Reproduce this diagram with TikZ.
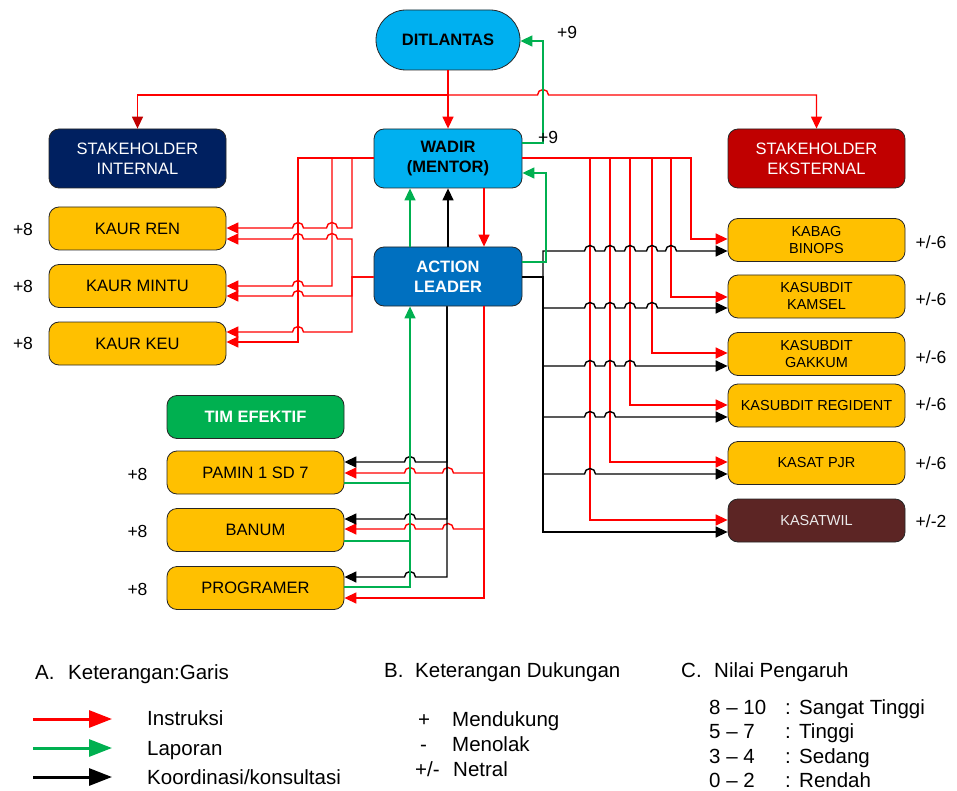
\documentclass[tikz,border=0pt]{standalone}
\usepackage{fontspec}
\setmainfont{Liberation Sans}
\usetikzlibrary{arrows.meta,shapes.misc}
\definecolor{cyanb}{HTML}{00B0F0}
\definecolor{blueal}{HTML}{0070C0}
\definecolor{navy}{HTML}{002060}
\definecolor{dred}{HTML}{C00000}
\definecolor{yel}{HTML}{FFC000}
\definecolor{grn}{HTML}{00B050}
\definecolor{brn}{HTML}{5C2524}
\definecolor{rd}{HTML}{FF0000}
\newcommand\hr[2]{-- ({#1-5.5},#2) arc[start angle=180,end angle=360,radius=5.5]}
\newcommand\hl[2]{-- ({#1+5.5},#2) arc[start angle=0,end angle=-180,radius=5.5]}
\begin{document}
\begin{tikzpicture}[x=1pt,y=-1pt,
  box/.style={draw=black!85, line width=0.8pt, rounded corners=10pt, minimum width=177pt, minimum height=43pt, inner sep=2pt, align=center, font=\fontsize{16.5}{20}\selectfont},
  ybox/.style={box, fill=yel},
  rbox/.style={ybox, font=\fontsize{14.5}{17}\selectfont},
  bigbox/.style={box, minimum height=59pt, font=\fontsize{16.5}{20.5}\selectfont\bfseries},
  rl/.style={draw=rd, line width=1.4pt},
  ra/.style={rl, -{Triangle[length=12pt,width=11pt]}},
  gl/.style={draw=grn, line width=1.4pt},
  ga/.style={gl, -{Triangle[length=12pt,width=11pt]}},
  kl/.style={draw=black, line width=1.4pt},
  ka/.style={kl, -{Triangle[length=12pt,width=11pt]}},
  lab/.style={inner sep=0pt, font=\fontsize{17.5}{20}\selectfont},
  leg/.style={anchor=west, inner sep=0pt, font=\fontsize{20.5}{24}\selectfont, text height=14.7pt, text depth=0pt},
]
\useasboundingbox (0,0) rectangle (957,791);

% nodes
\node[draw=black!85, line width=0.8pt, rounded rectangle, fill=cyanb, minimum width=148pt, minimum height=60pt, inner sep=2pt, font=\fontsize{16.5}{20}\selectfont\bfseries] (dit) at (448,40) {DITLANTAS};
\node[bigbox, fill=cyanb, minimum width=148pt] (wadir) at (448,158.5) {WADIR\\(MENTOR)};
\node[bigbox, fill=blueal, text=white, minimum width=148pt] (al) at (448,276.5) {ACTION\\LEADER};
\node[box, fill=navy, text=white, minimum height=59pt] (si) at (137.5,158.5) {STAKEHOLDER\\INTERNAL};
\node[box, fill=dred, text=white, minimum height=59pt] (se) at (816.5,158.5) {STAKEHOLDER\\EKSTERNAL};

\node[ybox] (kren) at (137.5,228.5) {KAUR REN};
\node[ybox] (kmin) at (137.5,286) {KAUR MINTU};
\node[ybox] (kkeu) at (137.5,343.5) {KAUR KEU};

\node[box, fill=grn, text=white, font=\fontsize{16.5}{20}\selectfont\bfseries] (tim) at (255.5,417) {TIM EFEKTIF};
\node[ybox] (pamin) at (255.5,472.5) {PAMIN 1 SD 7};
\node[ybox] (banum) at (255.5,530) {BANUM};
\node[ybox] (prog) at (255.5,588) {PROGRAMER};

\node[rbox] (binops) at (816.5,240) {KABAG\\BINOPS};
\node[rbox] (kamsel) at (816.5,296.5) {KASUBDIT\\KAMSEL};
\node[rbox] (gakkum) at (816.5,354) {KASUBDIT\\GAKKUM};
\node[rbox] (regident) at (816.5,405.5) {KASUBDIT REGIDENT};
\node[rbox] (pjr) at (816.5,463) {KASAT PJR};
\node[rbox, fill=brn, text=white!92!black] (twil) at (816.5,520.5) {KASATWIL};

% red: instruksi
\draw[ra] (dit.south) -- (wadir.north);
\draw[rl, -{Triangle[length=12pt,width=11pt,color=dred]}] (dit.south |- 0,95) -| (si.north);
\draw[ra] (dit.south |- 0,95) \hr{543}{95} -| (se.north);
\draw[ra] (wadir.south -| 484,0) -- (al.north -| 484,0);

\draw[ra] (wadir.west |- 0,158) -- (352,158) -- (352,228) \hl{332}{228} \hl{298}{228} -- (kren.east |- 0,228);
\draw[ra] (wadir.west |- 0,158) -- (332,158) -- (332,286) \hl{298}{286} -- (kmin.east |- 0,286);
\draw[ra] (wadir.west |- 0,158) -- (298,158) -- (298,342) -- (kkeu.east |- 0,342);

\draw[ra] (al.west |- 0,277) -- (352,277) -- (352,239) \hl{332}{239} \hl{298}{239} -- (kren.east |- 0,239);
\draw[ra] (al.west |- 0,277) -- (352,277) -- (352,296) \hl{298}{296} -- (kmin.east |- 0,296);
\draw[ra] (al.west |- 0,277) -- (352,277) -- (352,332) \hl{298}{332} -- (kkeu.east |- 0,332);

\draw[ra] (wadir.east |- 0,158) -- (691,158) -- (691,239) -- (binops.west |- 0,239);
\draw[ra] (wadir.east |- 0,158) -- (671,158) -- (671,297) -- (kamsel.west |- 0,297);
\draw[ra] (wadir.east |- 0,158) -- (652,158) -- (652,353) -- (gakkum.west |- 0,353);
\draw[ra] (wadir.east |- 0,158) -- (630,158) -- (630,405) -- (regident.west |- 0,405);
\draw[ra] (wadir.east |- 0,158) -- (610,158) -- (610,462) -- (pjr.west |- 0,462);
\draw[ra] (wadir.east |- 0,158) -- (590,158) -- (590,520) -- (twil.west |- 0,520);

\draw[ra] (al.south -| 484,0) -- (484,473) \hl{448}{473} \hl{410}{473} -- (pamin.east |- 0,473);
\draw[ra] (al.south -| 484,0) -- (484,529) \hl{448}{529} \hl{410}{529} -- (banum.east |- 0,529);
\draw[ra] (al.south -| 484,0) -- (484,598) -- (prog.east |- 0,598);

% black: koordinasi
\draw[ka] (al.north -| 448,0) -- (wadir.south -| 448,0);
\draw[ka] (al.south -| 447,0) -- (447,462) \hl{410}{462} -- (pamin.east |- 0,462);
\draw[ka] (al.south -| 447,0) -- (447,519) \hl{410}{519} -- (banum.east |- 0,519);
\draw[ka] (al.south -| 447,0) -- (447,577) \hl{410}{577} -- (prog.east |- 0,577);

\draw[ka] (al.east |- 0,277) -- (543,277) -- (543,251) \hr{590}{251} \hr{610}{251} \hr{630}{251} \hr{652}{251} \hr{671}{251} -- (binops.west |- 0,251);
\draw[ka] (al.east |- 0,277) -- (543,277) -- (543,308) \hr{590}{308} \hr{610}{308} \hr{630}{308} \hr{652}{308} -- (kamsel.west |- 0,308);
\draw[ka] (al.east |- 0,277) -- (543,277) -- (543,366) \hr{590}{366} \hr{610}{366} \hr{630}{366} -- (gakkum.west |- 0,366);
\draw[ka] (al.east |- 0,277) -- (543,277) -- (543,417) \hr{590}{417} \hr{610}{417} -- (regident.west |- 0,417);
\draw[ka] (al.east |- 0,277) -- (543,277) -- (543,474) \hr{590}{474} -- (pjr.west |- 0,474);
\draw[ka] (al.east |- 0,277) -- (543,277) -- (543,532) -- (twil.west |- 0,532);

% green: laporan
\draw[ga] (al.north -| 410,0) -- (wadir.south -| 410,0);
\draw[ga] (al.east |- 0,262) -- (546,262) -- (546,173) -- (wadir.east |- 0,173);
\draw[ga] (wadir.east |- 0,143) -- (543,143) -- (543,41) -- (dit.east |- 0,41);
\draw[gl] (pamin.east |- 0,483) -- (410,483);
\draw[gl] (banum.east |- 0,541) -- (410,541);
\draw[ga] (prog.east |- 0,587) -- (410,587) -- (al.south -| 410,0);

% value labels
\node[lab] (v1) at (567,32) {+9};
\node[lab] (v2) at (548,137) {+9};
\node[lab] (v3) at (23,229) {+8};
\node[lab] (v4) at (23,286) {+8};
\node[lab] (v5) at (23,343) {+8};
\node[lab] (v6) at (137.5,474) {+8};
\node[lab] (v7) at (137.5,531) {+8};
\node[lab] (v8) at (137.5,589) {+8};
\node[lab] (v9) at (931,242) {+/-6};
\node[lab] (v10) at (931,299) {+/-6};
\node[lab] (v11) at (931,357) {+/-6};
\node[lab] (v12) at (931,404) {+/-6};
\node[lab] (v13) at (931,463) {+/-6};
\node[lab] (v14) at (931,521) {+/-2};

% legend A
\node[leg] (la) at (35,672) {A.};
\node[leg] (lat) at (68,672) {Keterangan:Garis};
\coordinate (a1s) at (33,719); \coordinate (a1e) at (112,719);
\coordinate (a2s) at (33,748); \coordinate (a2e) at (112,748);
\coordinate (a3s) at (33,777); \coordinate (a3e) at (112,777);
\draw[draw=rd, line width=3pt, -{Triangle[length=23pt,width=17pt]}] (a1s) -- (a1e);
\draw[draw=grn, line width=3pt, -{Triangle[length=23pt,width=17pt]}] (a2s) -- (a2e);
\draw[draw=black, line width=3pt, -{Triangle[length=23pt,width=17pt]}] (a3s) -- (a3e);
\node[leg] (l1) at (147,718) {Instruksi};
\node[leg] (l2) at (147,748) {Laporan};
\node[leg] (l3) at (147,777) {Koordinasi/konsultasi};

% legend B
\node[leg] (lb) at (384,670) {B.};
\node[leg] (lbt) at (415,670) {Keterangan Dukungan};
\node[leg] (b1) at (418,719) {+};
\node[leg] (b1t) at (452,719) {Mendukung};
\node[leg] (b2) at (420,744) {-};
\node[leg] (b2t) at (452,744) {Menolak};
\node[leg] (b3) at (415,769) {+/-};
\node[leg] (b3t) at (453,769) {Netral};

% legend C
\node[leg] (lc) at (681,670) {C.};
\node[leg] (lct) at (714,670) {Nilai Pengaruh};
\node[leg] (c1) at (709,707) {8 – 10};
\node[leg] (c2) at (709,731) {5 – 7};
\node[leg] (c3) at (709,756) {3 – 4};
\node[leg] (c4) at (709,780) {0 – 2};
\node[leg] (c1c) at (785,707) {:};
\node[leg] (c2c) at (785,731) {:};
\node[leg] (c3c) at (785,756) {:};
\node[leg] (c4c) at (785,780) {:};
\node[leg] (c1t) at (799,707) {Sangat Tinggi};
\node[leg] (c2t) at (799,731) {Tinggi};
\node[leg] (c3t) at (799,756) {Sedang};
\node[leg] (c4t) at (799,780) {Rendah};
\end{tikzpicture}
\end{document}
